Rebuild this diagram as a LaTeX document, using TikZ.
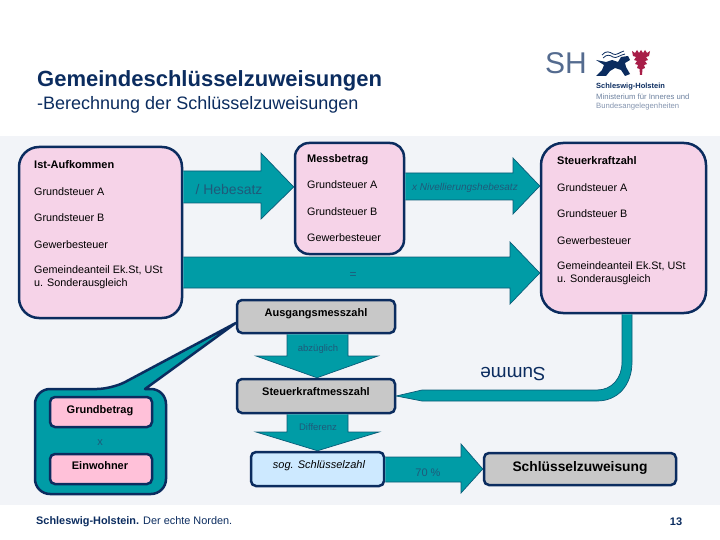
\documentclass[tikz,border=0pt]{standalone}
\usepackage{fontspec}
\setmainfont{Liberation Sans}
\usepackage{tikz}
\definecolor{navy}{HTML}{0B2C5F}
\definecolor{teal}{HTML}{009CA6}
\definecolor{tealdark}{HTML}{0A5C78}
\definecolor{inktext}{HTML}{1F5A7A}
\definecolor{pinkbox}{HTML}{F6D3E8}
\definecolor{rosebox}{HTML}{FFC1D9}
\definecolor{greybox}{HTML}{C8C8C8}
\definecolor{skybox}{HTML}{CDE9FF}
\definecolor{panel}{HTML}{F2F4F8}
\definecolor{nettle}{HTML}{A81E48}
\begin{document}
\begin{tikzpicture}[x=1pt,y=-1pt,
  box/.style={draw=navy, line width=2.5pt, minimum width=#1, inner sep=0pt},
  pinkrnd/.style={box=#1, fill=pinkbox},
  greyrnd/.style={box=#1, fill=greybox, rounded corners=5pt},
  rosernd/.style={box=102pt, fill=rosebox, rounded corners=5pt, minimum height=30pt},
  blockarrow/.style={draw=tealdark, fill=teal, line width=0.7pt, line join=miter},
  entry/.style={anchor=west, font=\fontsize{10.8}{13}\selectfont, align=left, inner sep=0pt},
  headline/.style={font=\fontsize{11}{13}\selectfont\bfseries, inner sep=0pt},
  arrowtext/.style={text=inktext, inner sep=0pt},
]
\useasboundingbox (0,0) rectangle (720,540);
\fill[panel] (0,136) rectangle (720,505);

\node[anchor=west, inner sep=0pt, font=\fontsize{22}{26}\selectfont\bfseries, text=navy] (title) at (37,81) {Gemeindeschlüsselzuweisungen};
\node[anchor=west, inner sep=0pt, font=\fontsize{18}{20}\selectfont, text=navy] (subtitle) at (37,105) {-Berechnung der Schlüsselzuweisungen};

\node[pinkrnd=163pt, minimum height=171pt, rounded corners=20pt] (ist) at (100.5,232.5) {};
\node[pinkrnd=109pt, minimum height=111pt, rounded corners=14pt] (mess) at (349.5,198.5) {};
\node[pinkrnd=165pt, minimum height=170pt, rounded corners=22pt] (kraft) at (623.5,228) {};
\node[greyrnd=158pt, minimum height=33pt] (ausgang) at (316,316.5) {};
\node[greyrnd=158pt, minimum height=34pt] (messzahl) at (316,396) {};
\node[box=133pt, fill=skybox, rounded corners=5pt, minimum height=34pt] (schluessel) at (317.5,469) {};
\node[greyrnd=192pt, minimum height=32pt] (zuweisung) at (580,469) {};

\draw[blockarrow] (ist.east |- 0,171) -- (261,171) -- (261,153) -- (mess.west |- 0,187) -- (261,219) -- (261,203) -- (ist.east |- 0,203);
\draw[blockarrow] (mess.east |- 0,173) -- (513,173) -- (513,158) -- (kraft.west |- 0,186) -- (513,214) -- (513,200) -- (mess.east |- 0,200);
\draw[blockarrow] (ist.east |- 0,257) -- (510,257) -- (510,242) -- (kraft.west |- 0,273) -- (510,304) -- (510,288) -- (ist.east |- 0,288);
\draw[blockarrow] (287,0 |- ausgang.south) -- (287,356) -- (256,356) -- (messzahl.north -| 317,0) -- (378,356) -- (348,356) -- (348,0 |- ausgang.south);
\draw[blockarrow] (287,0 |- messzahl.south) -- (287,432) -- (256,432) -- (schluessel.north) -- (379,432) -- (348,432) -- (348,0 |- messzahl.south);
\draw[blockarrow] (schluessel.east |- 0,457) -- (461,457) -- (461,444) -- (zuweisung.west) -- (461,493) -- (461,482) -- (schluessel.east |- 0,482);
\draw[blockarrow] (622,0 |- kraft.south) -- (622,362) .. controls (622,378) and (612,390) .. (597,390) -- (422,390) -- (messzahl.east) -- (422,401) -- (597,401) .. controls (618,401) and (632,385) .. (632,362) -- (632,0 |- kraft.south);

\draw[draw=navy, fill=teal, line width=2.5pt, line join=round] (112,389) [sharp corners] -- (ausgang.west |- 0,323) -- (145,389) [rounded corners=15pt] -- (166,389) -- (166,494) -- (35,494) -- (35,389) -- cycle;
\node[rosernd] (grundbetrag) at (101,412) {};
\node[rosernd] (einwohner) at (101,469) {};

\node[headline, anchor=west] (istkopf) at (34,165) {Ist-Aufkommen};
\node[entry] (ista) at (34,192) {Grundsteuer A};
\node[entry] (istb) at (34,218) {Grundsteuer B};
\node[entry] (istg) at (34,245) {Gewerbesteuer};
\node[entry] (istu) at (34,277.5) {Gemeindeanteil Ek.St, USt\\u. Sonderausgleich};

\node[headline, anchor=west] (messkopf) at (307,160) {Messbetrag};
\node[entry] (messa) at (307,185) {Grundsteuer A};
\node[entry] (messb) at (307,212) {Grundsteuer B};
\node[entry] (messg) at (307,238) {Gewerbesteuer};

\node[headline, anchor=west] (kraftkopf) at (557,161) {Steuerkraftzahl};
\node[entry] (krafta) at (557,188) {Grundsteuer A};
\node[entry] (kraftb) at (557,214) {Grundsteuer B};
\node[entry] (kraftg) at (557,241) {Gewerbesteuer};
\node[entry] (kraftu) at (557,273.5) {Gemeindeanteil Ek.St, USt\\u. Sonderausgleich};

\node[headline] (ausgangtext) at (316,314) {Ausgangsmesszahl};
\node[headline] (messzahltext) at (316,392) {Steuerkraftmesszahl};
\node[headline] (grundtext) at (100,411) {Grundbetrag};
\node[headline] (einwohnertext) at (100,466) {Einwohner};
\node[inner sep=0pt, font=\fontsize{11}{13}\selectfont\itshape] (schluesseltext) at (319,466) {sog. Schlüsselzahl};
\node[inner sep=0pt, font=\fontsize{13.8}{15}\selectfont\bfseries] (zuweisungtext) at (580,468) {Schlüsselzuweisung};

\node[arrowtext, font=\fontsize{14}{16}\selectfont] (hebesatz) at (229,189) {/ Hebesatz};
\node[arrowtext, font=\fontsize{10}{11}\selectfont\itshape] (niv) at (465,188) {x Nivellierungshebesatz};
\node[arrowtext, font=\fontsize{12}{14}\selectfont] (gleich) at (353,276) {=};
\node[arrowtext, font=\fontsize{9.5}{11}\selectfont] (abz) at (318,349) {abzüglich};
\node[arrowtext, font=\fontsize{9.5}{11}\selectfont] (diff) at (318,427) {Differenz};
\node[arrowtext, font=\fontsize{11}{13}\selectfont] (mal) at (100,443) {x};
\node[arrowtext, font=\fontsize{11}{13}\selectfont] (siebzig) at (428,473) {70 \%};
\node[inner sep=0pt, text=navy, rotate=180, font=\fontsize{19}{21}\selectfont] (summe) at (513,374) {Summe};

\node[anchor=west, inner sep=0pt, text=navy, font=\fontsize{10.9}{13}\selectfont] (fuss) at (36,522) {\textbf{Schleswig-Holstein.} Der echte Norden.};
\node[inner sep=0pt, text=navy, font=\fontsize{11}{13}\selectfont\bfseries] (seite) at (676,522) {13};

\node[inner sep=0pt, text=navy!70, font=\fontsize{30}{32}\selectfont] (sh) at (566,63) {SH};
\draw[navy, line width=0.8pt] (602,55) .. controls (606,50) and (610,52) .. (613,54) .. controls (616,56) and (620,52) .. (624,51);
\draw[navy, line width=0.8pt] (603,58) .. controls (607,54) and (610,55) .. (613,57) .. controls (616,59) and (620,55) .. (625,54);
\fill[navy] (596,60) -- (606,62) -- (612,60) -- (618,62) -- (621,57) -- (628,56) -- (630,60) -- (625,63) -- (626,67) -- (630,74) -- (625,76) -- (621,70) -- (615,68) -- (610,71) -- (606,76) -- (596,76) -- (602,70) -- (604,65) -- cycle;
\fill[nettle] (632,51) -- (635,53) -- (637,50) -- (639,53) -- (641,50) -- (643,53) -- (645,50) -- (647,53) -- (650,51) -- (649,56) -- (646,57) -- (648,60) -- (645,61) -- (647,64) -- (644,65) -- (645,68) -- (642.5,69) -- (642,75) -- (640,75) -- (639.5,69) -- (637,68) -- (638,65) -- (635,64) -- (637,61) -- (634,60) -- (636,57) -- (633,56) -- cycle;
\node[anchor=west, inner sep=0pt, text=navy, font=\fontsize{7.5}{9}\selectfont\bfseries] (logoa) at (596,87) {Schleswig-Holstein};
\node[anchor=west, inner sep=0pt, text=navy!60, font=\fontsize{7.7}{9}\selectfont] (logob) at (596,97) {Ministerium für Inneres und};
\node[anchor=west, inner sep=0pt, text=navy!50, font=\fontsize{7.7}{9}\selectfont] (logoc) at (596,107) {Bundesangelegenheiten};
\end{tikzpicture}
\end{document}
